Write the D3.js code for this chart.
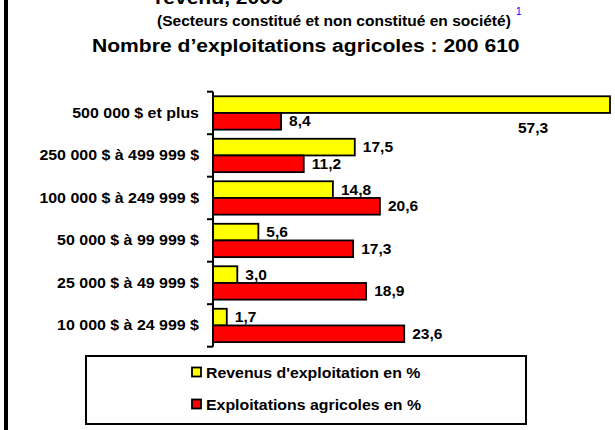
<!DOCTYPE html>
<html>
<head>
<meta charset="utf-8">
<script src="https://cdn.jsdelivr.net/npm/d3@7"></script>
<style>
  html, body { margin: 0; padding: 0; background: #fff; }
  svg { display: block; }
  text { font-family: "Liberation Sans", Arial, sans-serif; font-weight: bold; fill: #000; }
</style>
</head>
<body>
<svg id="chart" width="615" height="430"></svg>
<script>
const categories = ["500 000 $ et plus", "250 000 $ à 499 999 $", "100 000 $ à 249 999 $",
                    "50 000 $ à 99 999 $", "25 000 $ à 49 999 $", "10 000 $ à 24 999 $"];
const revenus = [57.3, 17.5, 14.8, 5.6, 3.0, 1.7];
const exploitations = [8.4, 11.2, 20.6, 17.3, 18.9, 23.6];
const seriesNames = ["Revenus d'exploitation en %", "Exploitations agricoles en %"];
const seriesColors = ["#FFFF00", "#FF0000"];
const titleLines = ["revenu, 2005", "(Secteurs constitué et non constitué en société)", "Nombre d\u2019exploitations agricoles : 200 610"];
const xDomainMax = 49;

const svg = d3.select("#chart");
const SX = 1.11;
const fmt = v => d3.format(".1f")(v).replace(".", ",");

function stext(g, x, y, str, size, anchor, sx) {
  return g.append("text")
    .attr("transform", `translate(${x},${y}) scale(${sx || SX},1)`)
    .attr("text-anchor", anchor || "start")
    .style("font-size", size + "px")
    .text(str);
}

// left border strip
svg.append("rect").attr("x", 4).attr("y", 0).attr("width", 4).attr("height", 430).attr("fill", "#000");

// titles
stext(svg, 155, 4, titleLines[0], 19, "start");
stext(svg, 157, 26, titleLines[1], 14, "start");
svg.append("text").attr("x", 516).attr("y", 15).style("font-size", "10px")
  .style("font-weight", "normal").style("fill", "#0000FF").text("1");
stext(svg, 92, 52, titleLines[2], 19, "start");

// scales
const x = d3.scaleLinear().domain([0, xDomainMax]).range([213, 610]).clamp(true);
const y = d3.scaleBand().domain(categories).range([91.7, 346.7])
  .paddingInner(0.215).paddingOuter(0.1075);
const sub = d3.scaleBand().domain([0, 1]).range([0, y.bandwidth()]);

const data = categories.map((c, i) => ({ cat: c, vals: [revenus[i], exploitations[i]] }));

// bars
const groups = svg.append("g").selectAll("g").data(data).join("g")
  .attr("transform", d => `translate(0,${y(d.cat)})`);

groups.selectAll("rect").data(d => d.vals.map((v, k) => ({ v, k }))).join("rect")
  .attr("x", x(0))
  .attr("y", d => sub(d.k))
  .attr("width", d => x(d.v) - x(0))
  .attr("height", sub.bandwidth())
  .attr("fill", d => seriesColors[d.k])
  .attr("stroke", "#000")
  .attr("stroke-width", 1.8);

// value labels
groups.each(function(d) {
  const g = d3.select(this);
  d.vals.forEach((v, k) => {
    const clipped = v > xDomainMax;
    if (clipped) {
      stext(g, x(xDomainMax) - 77, sub(1) + sub.bandwidth() + 3, fmt(v), 14, "middle");
    } else {
      stext(g, x(v) + 8, sub(k) + sub.bandwidth() / 2 + 5, fmt(v), 14, "start");
    }
  });
});

// y axis
const [r0, r1] = y.range();
svg.append("line").attr("x1", x(0)).attr("x2", x(0)).attr("y1", r0).attr("y2", r1)
  .attr("stroke", "#000").attr("stroke-width", 2);
d3.range(categories.length + 1).forEach(i => {
  const ty = r0 + i * y.step();
  svg.append("line").attr("x1", x(0) - 6).attr("x2", x(0)).attr("y1", ty).attr("y2", ty)
    .attr("stroke", "#000").attr("stroke-width", 2);
});

// category labels
categories.forEach(c => {
  stext(svg, 199, y(c) + y.bandwidth() / 2 + 5, c, 14, "end", 1.14);
});

// legend
const lg = svg.append("g");
lg.append("rect").attr("x", 86).attr("y", 356).attr("width", 440).attr("height", 68)
  .attr("fill", "#fff").attr("stroke", "#000").attr("stroke-width", 2);
seriesNames.forEach((n, k) => {
  const yy = 367.5 + k * 32;
  lg.append("rect").attr("x", 192).attr("y", yy).attr("width", 9).attr("height", 9)
    .attr("fill", seriesColors[k]).attr("stroke", "#000").attr("stroke-width", 1.8);
  stext(lg, 206, yy + 10, n, 14.3, "start");
});
</script>
</body>
</html>
